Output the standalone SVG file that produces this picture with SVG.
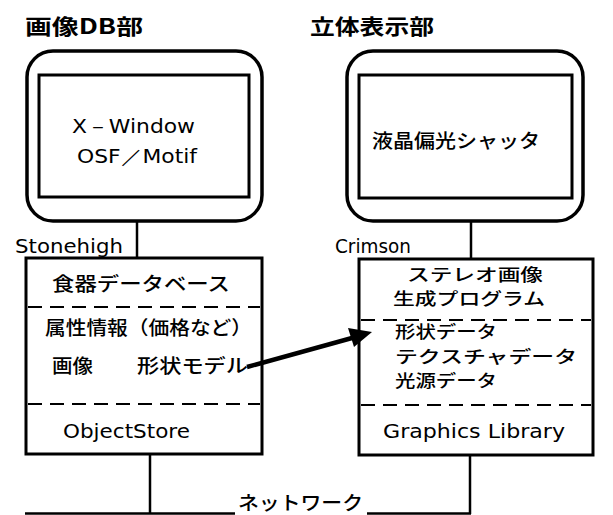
<svg xmlns="http://www.w3.org/2000/svg" width="613" height="515" viewBox="0 0 613 515">
<style>
.jp{font-family:"Noto Sans CJK JP","Noto Sans",sans-serif;font-size:19px;font-weight:500;fill:#000}
.sm{font-size:17px}
.ttl{font-family:"Noto Sans CJK JP","Noto Sans",sans-serif;font-size:21px;font-weight:700;fill:#000}
.lat{font-family:"DejaVu Sans","Liberation Sans",sans-serif;font-size:19px;fill:#000}
.outer{fill:none;stroke:#000;stroke-width:3.5}
.inner{fill:none;stroke:#000;stroke-width:3}
.box{fill:none;stroke:#000;stroke-width:3}
.dash{fill:none;stroke:#000;stroke-width:2;stroke-dasharray:14 8}
.ln{fill:none;stroke:#000;stroke-width:2.5}
</style>
<rect width="613" height="515" fill="#fff"/>
<g id="title-left"><text class="ttl" x="25" y="34" textLength="118" lengthAdjust="spacingAndGlyphs">画像DB部</text></g>
<g id="title-right"><text class="ttl" x="310" y="34" textLength="124" lengthAdjust="spacingAndGlyphs">立体表示部</text></g>

<g id="monitor-left">
<rect class="outer" x="27" y="51" width="235" height="170" rx="26"/>
<rect class="inner" x="39" y="75" width="210" height="122"/>
<text class="lat" x="72" y="133" font-size="21" textLength="123" lengthAdjust="spacingAndGlyphs">X－Window</text>
<text class="lat" x="77" y="163" font-size="21" textLength="120" lengthAdjust="spacingAndGlyphs">OSF／Motif</text>
</g>
<g id="monitor-right">
<rect class="outer" x="347" y="51" width="236" height="170" rx="26"/>
<rect class="inner" x="359" y="75" width="213" height="123"/>
<text class="jp" x="372" y="148" textLength="168" lengthAdjust="spacingAndGlyphs">液晶偏光シャッタ</text>
</g>

<g id="label-stonehigh"><text class="lat" x="15" y="253" font-size="21" textLength="108" lengthAdjust="spacingAndGlyphs">Stonehigh</text></g>
<g id="label-crimson"><text class="lat" x="335" y="253" font-size="21" textLength="76" lengthAdjust="spacingAndGlyphs">Crimson</text></g>

<g id="box-left">
<rect class="box" x="26" y="258" width="236" height="196"/>
<line class="dash" x1="28" y1="307" x2="260" y2="307"/>
<line class="dash" x1="28" y1="404" x2="260" y2="404"/>
<text class="jp" x="52" y="291" textLength="178" lengthAdjust="spacingAndGlyphs">食器データベース</text>
<text class="jp" x="45" y="335" textLength="207" lengthAdjust="spacingAndGlyphs">属性情報（価格など）</text>
<text class="jp" x="52" y="373" textLength="41" lengthAdjust="spacingAndGlyphs">画像</text>
<text class="jp" x="137" y="373" textLength="111" lengthAdjust="spacingAndGlyphs">形状モデル</text>
<text class="lat" x="63" y="438" textLength="127" lengthAdjust="spacingAndGlyphs">ObjectStore</text>
</g>

<g id="box-right">
<rect class="box" x="359" y="259" width="234" height="196"/>
<line class="dash" x1="361" y1="320" x2="591" y2="320"/>
<line class="dash" x1="361" y1="405" x2="591" y2="405"/>
<text class="jp sm" x="407" y="281" textLength="136" lengthAdjust="spacingAndGlyphs">ステレオ画像</text>
<text class="jp sm" x="393" y="305" textLength="152" lengthAdjust="spacingAndGlyphs">生成プログラム</text>
<text class="jp sm" x="395" y="338" textLength="102" lengthAdjust="spacingAndGlyphs">形状データ</text>
<text class="jp sm" x="395" y="363" textLength="182" lengthAdjust="spacingAndGlyphs">テクスチャデータ</text>
<text class="jp sm" x="395" y="387" textLength="102" lengthAdjust="spacingAndGlyphs">光源データ</text>
<text class="lat" x="383" y="438" textLength="182" lengthAdjust="spacingAndGlyphs">Graphics  Library</text>
</g>

<g id="network"><text class="jp" x="238" y="510" textLength="125" lengthAdjust="spacingAndGlyphs">ネットワーク</text></g>

<g id="connectors">
<line class="ln" x1="137" y1="221" x2="137" y2="258"/>
<line class="ln" x1="471" y1="221" x2="471" y2="259"/>
<line class="ln" x1="150" y1="454" x2="150" y2="514"/>
<line class="ln" x1="470" y1="455" x2="470" y2="514"/>
<line class="ln" x1="25" y1="513.5" x2="235" y2="513.5"/>
<line class="ln" x1="367" y1="513.5" x2="471" y2="513.5"/>
<line x1="247" y1="367" x2="352" y2="338" stroke="#000" stroke-width="4.5"/>
<polygon points="372,332 348,328 354,347" fill="#000"/>
</g>
</svg>
